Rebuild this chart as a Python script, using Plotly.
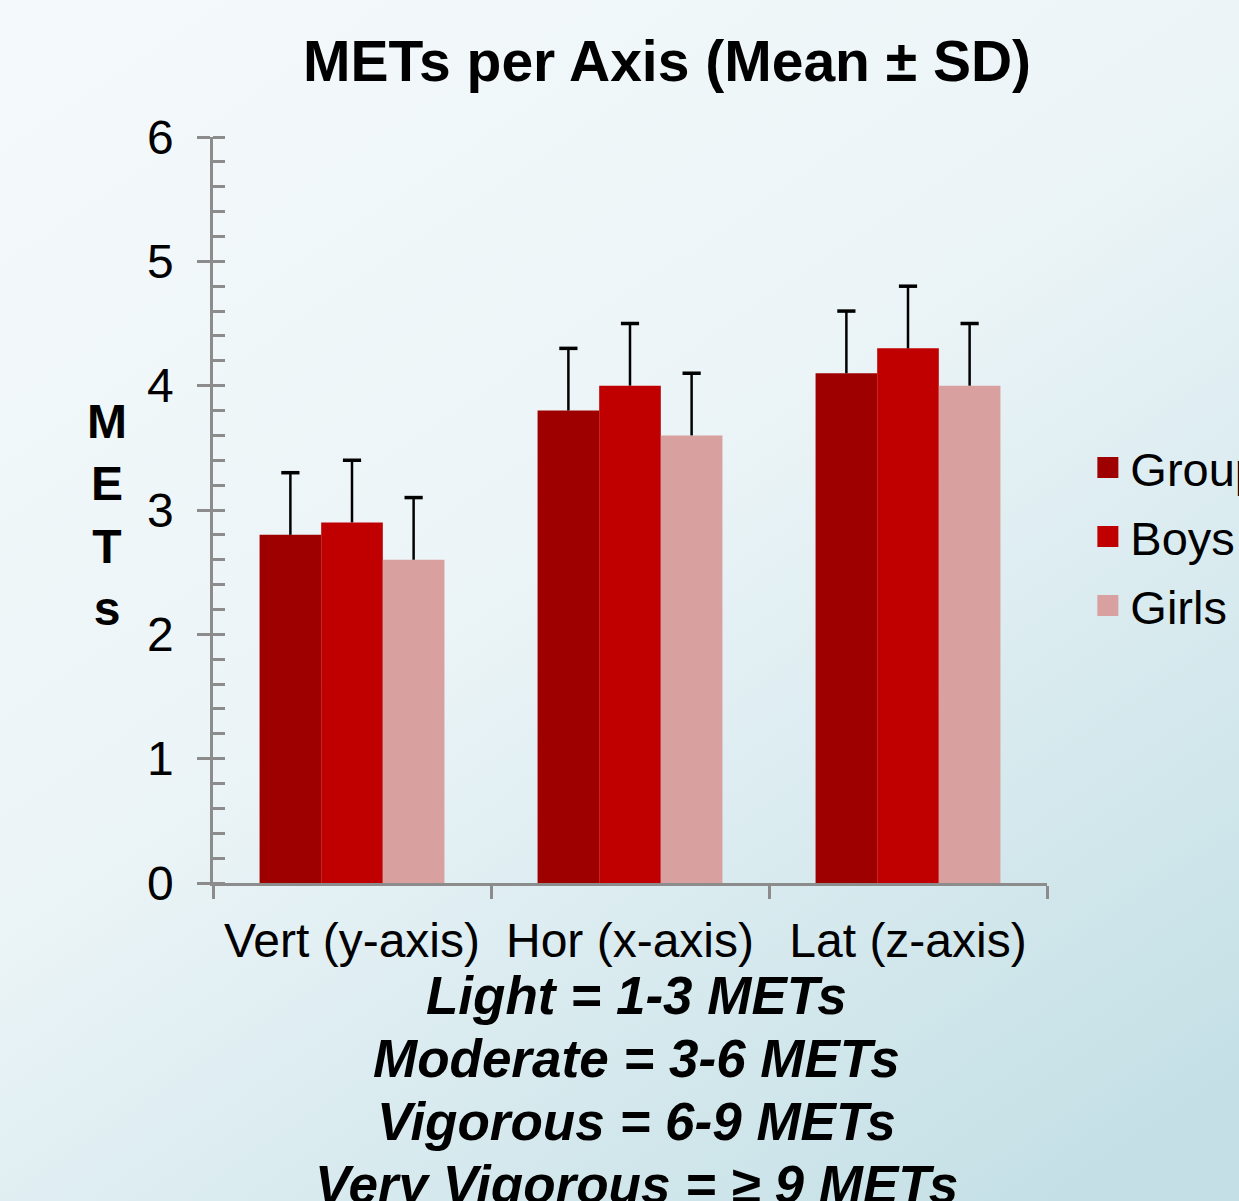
import base64
import plotly.graph_objects as go

categories = ["Vert (y-axis)", "Hor (x-axis)", "Lat (z-axis)"]
series_names = ["Group", "Boys", "Girls"]
group_mean = [2.8, 3.8, 4.1]
boys_mean = [2.9, 4.0, 4.3]
girls_mean = [2.6, 3.6, 4.0]
group_sd = [0.5, 0.5, 0.5]
boys_sd = [0.5, 0.5, 0.5]
girls_sd = [0.5, 0.5, 0.5]
colors = ["#9E0000", "#C00000", "#D9A0A0"]
notes = ["Light = 1-3 METs", "Moderate = 3-6 METs", "Vigorous = 6-9 METs", "Very Vigorous = \u2265 9 METs"]

W, H = 1239, 1201
ML, MR, MT, MB = 213, 192, 137, 318
PW, PH = W - ML - MR, H - MT - MB
GAP = 0.335

FONT = "Liberation Sans, Arial, sans-serif"

fig = go.Figure()
means = [group_mean, boys_mean, girls_mean]
sds = [group_sd, boys_sd, girls_sd]
for name, m, c in zip(series_names, means, colors):
    fig.add_trace(go.Bar(
        x=categories, y=m, name=name, marker=dict(color=c, line=dict(width=0)),
        showlegend=False, hoverinfo="x+y+name",
    ))
# error bars: point at top of SD with downward whisker, cap drawn as marker
for name, m, s in zip(series_names, means, sds):
    tops = [a + b for a, b in zip(m, s)]
    fig.add_trace(go.Scatter(
        x=categories, y=tops, mode="markers", showlegend=False,
        marker=dict(symbol="line-ew", size=13, color="#000000",
                    line=dict(width=3.5, color="#000000")),
        error_y=dict(type="data", symmetric=False, array=[0] * len(s), arrayminus=s,
                     color="#000000", thickness=2.5, width=0),
        hoverinfo="skip",
    ))
# legend entries (on overlay axis so they don't join the grouping)
for name, c in zip(series_names, colors):
    fig.add_trace(go.Scatter(
        x=[None], y=[None], yaxis="y2", mode="markers", name=name, legendgroup=name,
        marker=dict(symbol="square", size=16, color=c, line=dict(width=5, color=c)),
    ))

svg = (
    '<svg xmlns="http://www.w3.org/2000/svg" width="1239" height="1201">'
    '<defs><linearGradient id="g" x1="0.15" y1="0" x2="0.85" y2="1">'
    '<stop offset="0" stop-color="#F4F9FB"/>'
    '<stop offset="0.45" stop-color="#EBF4F7"/>'
    '<stop offset="1" stop-color="#C4E0E6"/>'
    '</linearGradient></defs>'
    '<rect width="1239" height="1201" fill="url(#g)"/></svg>'
)
src = "data:image/svg+xml;base64," + base64.b64encode(svg.encode()).decode()

fig.add_layout_image(dict(
    source=src, xref="paper", yref="paper",
    x=-ML / PW, y=1 + MT / PH, sizex=W / PW, sizey=H / PH,
    xanchor="left", yanchor="top", sizing="stretch", layer="below",
))

axis_color = "#8C8C8C"
fig.update_layout(
    width=W, height=H, autosize=False,
    margin=dict(l=ML, r=MR, t=MT, b=MB, autoexpand=False),
    paper_bgcolor="rgba(0,0,0,0)", plot_bgcolor="rgba(0,0,0,0)",
    barmode="group", bargap=GAP, bargroupgap=0,
    scattermode="group", scattergap=GAP,
    font=dict(family=FONT, color="#000000"),
    title=dict(text="<b>METs per Axis (Mean \u00b1 SD)</b>", x=667 / W, xanchor="center",
               y=1 - 61 / H, yanchor="middle", xref="container", yref="container",
               font=dict(size=57, family=FONT, color="#000000")),
    xaxis=dict(
        showline=True, linecolor=axis_color, linewidth=2.5,
        ticks="outside", ticklen=13, tickwidth=2.5, tickcolor=axis_color,
        tickson="boundaries", showgrid=False,
        tickfont=dict(size=48, family=FONT, color="#000000"),
        ticklabelstandoff=14,
    ),
    yaxis=dict(
        range=[0, 6], dtick=1, showline=True, linecolor=axis_color, linewidth=2.5,
        ticks="outside", ticklen=13, tickwidth=2.5, tickcolor=axis_color,
        showgrid=False, zeroline=False,
        tickfont=dict(size=48, family=FONT, color="#000000"),
        ticklabelstandoff=14,
        minor=dict(dtick=0.2, ticks="inside", ticklen=12, tickwidth=2.5, tickcolor=axis_color, showgrid=False),
    ),
    yaxis2=dict(
        range=[0, 6], dtick=1, overlaying="y", side="left", showline=False,
        ticks="inside", ticklen=12, tickwidth=2.5, tickcolor=axis_color,
        showticklabels=False, showgrid=False, zeroline=False,
    ),
    legend=dict(
        x=1.046, xanchor="left", y=0.464, yanchor="middle",
        font=dict(size=47, family=FONT, color="#000000"),
        bgcolor="rgba(0,0,0,0)", tracegroupgap=5, itemwidth=35,
    ),
)

fig.add_annotation(
    text="<b>M<br>E<br>T<br>s</b>", xref="paper", yref="paper",
    x=(107 - ML) / PW, y=(883 - 515) / PH, xanchor="center", yanchor="middle",
    showarrow=False, align="center", font=dict(size=48, family=FONT, color="#000000"),
)

note_y = [995, 1058, 1121, 1184]
for t, yp in zip(notes, note_y):
    fig.add_annotation(
        text="<b><i>" + t + "</i></b>", xref="paper", yref="paper",
        x=(636 - ML) / PW, y=(883 - yp) / PH, xanchor="center", yanchor="middle",
        showarrow=False, font=dict(size=53, family=FONT, color="#000000"),
    )

post = (
    "document.documentElement.style.margin='0';"
    "document.body.style.margin='0';"
    "document.body.style.overflow='hidden';"
    "document.documentElement.style.overflow='hidden';"
    "Plotly.relayout('{plot_id}', {width: 1239, height: 1201});"
)
fig.write_html("out.html", config={"responsive": False, "displayModeBar": False}, post_script=post)
